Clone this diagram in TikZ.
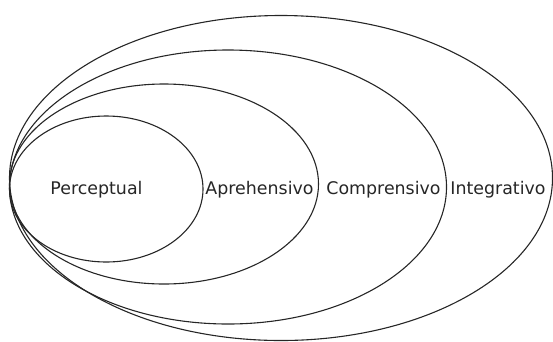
\documentclass[tikz,border=0pt]{standalone}
\usepackage{fontspec}
\setmainfont{DejaVu Sans}
\begin{document}
\begin{tikzpicture}[x=1pt,y=-1pt,
  level/.style={draw=black!85,line width=1.1pt},
  lab/.style={anchor=base,inner sep=0pt,font=\fontsize{17.4}{20}\selectfont,text=black!85}]
\useasboundingbox (0,0) rectangle (553,341);
% nested levels, all touching on the left
\draw[level] (281,178) ellipse (271.5 and 162.5);
\draw[level] (228,187) ellipse (218.5 and 137);
\draw[level] (164,184) ellipse (154.5 and 100);
\draw[level] (106.25,189) ellipse (96.75 and 73);
% level names
\node[lab] (perc) at (96.5,194) {Perceptual};
\node[lab] (apre) at (259.5,194) {Aprehensivo};
\node[lab] (comp) at (383.5,194) {Comprensivo};
\node[lab] (inte) at (498,194) {Integrativo};
\end{tikzpicture}
\end{document}
